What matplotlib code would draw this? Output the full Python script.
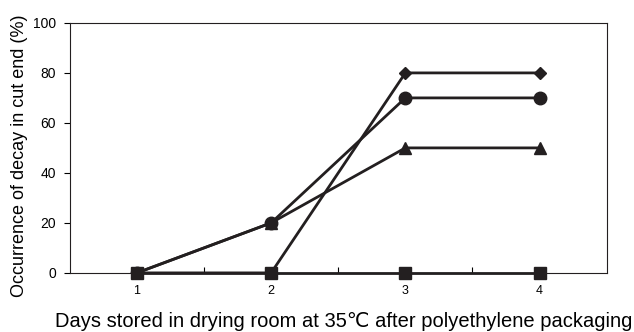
import matplotlib
matplotlib.use("Agg")
import matplotlib.pyplot as plt

plt.rcParams['font.family'] = ['Liberation Sans', 'DejaVu Sans']

days = [1, 2, 3, 4]
diamond = [0, 0, 80, 80]
circle = [0, 20, 70, 70]
triangle = [0, 20, 50, 50]
square = [0, 0, 0, 0]

fig = plt.figure(figsize=(6.34, 3.32), dpi=100)
ax = fig.add_axes([0.110, 0.178, 0.847, 0.753])

ax.plot(days, diamond, color='#231f20', lw=2, marker='D', ms=6)
ax.plot(days, circle, color='#231f20', lw=2, marker='o', ms=9)
ax.plot(days, triangle, color='#231f20', lw=2, marker='^', ms=9)
ax.plot(days, square, color='#231f20', lw=2, marker='s', ms=9, clip_on=False)

ax.set_xlim(0.5, 4.5)
ax.set_ylim(0, 100)
ax.set_yticks([0, 20, 40, 60, 80, 100])
ax.set_xticks(days)
ax.set_xticks([1.5, 2.5, 3.5], minor=True)
ax.tick_params(axis='x', which='major', length=0, labelsize=9, pad=9)
ax.tick_params(axis='x', which='minor', direction='in', length=4, width=0.8)
ax.tick_params(axis='y', direction='out', length=4, labelsize=10, width=0.8, pad=6)
for s in ax.spines.values():
    s.set_linewidth(0.8)
    s.set_color('#231f20')

ax.set_ylabel('Occurrence of decay in cut end (%)', fontsize=13)
ax.yaxis.set_label_coords(-0.078, 0.468)
ax.set_xlabel('Days stored in drying room at 35\u2103 after polyethylene packaging',
              fontsize=14.5)
ax.xaxis.set_label_coords(0.510, -0.155)

fig.savefig('out.png', dpi=100)
